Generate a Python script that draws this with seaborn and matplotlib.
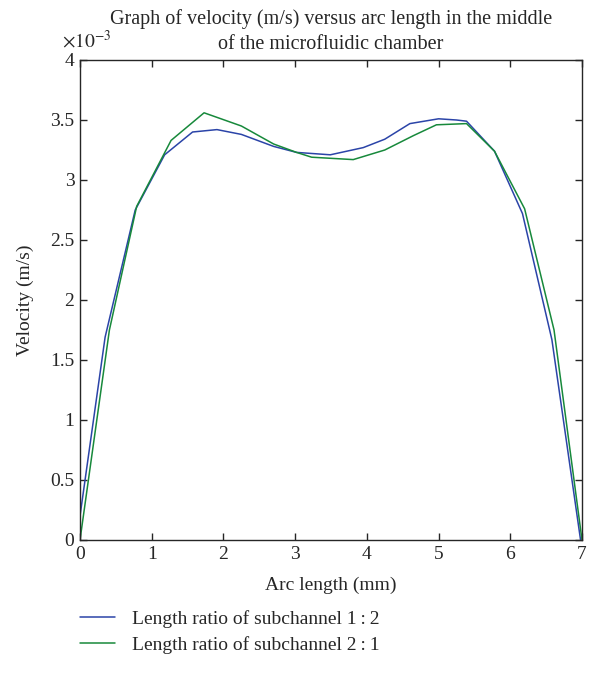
import numpy as np
import pandas as pd
import matplotlib
matplotlib.use("Agg")
import matplotlib.pyplot as plt
from matplotlib.ticker import FuncFormatter
import seaborn as sns

# Datos (velocidad en m/s, longitud de arco en mm)
arc_12 = [0, 0.35, 0.77, 1.18, 1.57, 1.91, 2.25, 2.70, 3.02, 3.49, 3.95,
          4.25, 4.60, 5.00, 5.25, 5.39, 5.78, 6.17, 6.58, 6.98]
vel_12 = [0.20, 1.69, 2.75, 3.21, 3.40, 3.42, 3.38, 3.28, 3.23, 3.21, 3.27,
          3.34, 3.47, 3.51, 3.50, 3.49, 3.24, 2.72, 1.67, 0.0]
arc_21 = [0, 0.41, 0.79, 1.27, 1.73, 2.25, 2.70, 3.02, 3.23, 3.81, 4.25,
          4.65, 4.97, 5.39, 5.78, 6.20, 6.61, 7.0]
vel_21 = [0.0, 1.75, 2.78, 3.33, 3.56, 3.45, 3.30, 3.23, 3.19, 3.17, 3.25,
          3.37, 3.46, 3.47, 3.24, 2.76, 1.75, 0.0]
labels = ["Length ratio of subchannel 1\u2009:\u20092",
          "Length ratio of subchannel 2\u2009:\u20091"]
colors = ["#2B44A8", "#17893B"]

df = pd.concat([
    pd.DataFrame({"arc": arc_12, "vel": np.array(vel_12) * 1e-3, "serie": labels[0]}),
    pd.DataFrame({"arc": arc_21, "vel": np.array(vel_21) * 1e-3, "serie": labels[1]}),
])

sns.set_style("ticks")
plt.rcParams["font.family"] = ["Liberation Serif", "DejaVu Serif"]
plt.rcParams["mathtext.fontset"] = "stix"
plt.rcParams["xtick.direction"] = "in"
plt.rcParams["ytick.direction"] = "in"

FS = 14

fig = plt.figure(figsize=(5.89, 6.73), dpi=100)
ax = fig.add_axes([80 / 589, 1 - 540 / 673, 502 / 589, 480 / 673])

sns.lineplot(data=df, x="arc", y="vel", hue="serie", palette=colors,
             sort=False, estimator=None, linewidth=1.1, ax=ax, legend=False)

ax.set_xlim(0, 7)
ax.set_ylim(0, 4e-3)
ax.set_xticks(range(8))
ax.set_yticks(np.arange(0, 4.01, 0.5) * 1e-3)
ax.yaxis.set_major_formatter(FuncFormatter(lambda v, p: f"{v * 1e3:g}"))
ax.text(-0.036, 1.018, r"$\times 10^{-3}$", transform=ax.transAxes,
        fontsize=FS, ha="left", va="bottom")
ax.tick_params(top=True, right=True, labelsize=FS, length=5, width=1, pad=4)
for s in ax.spines.values():
    s.set_linewidth(1.0)
    s.set_visible(True)

ax.set_xlabel("Arc length (mm)", fontsize=FS, labelpad=10)
ax.set_ylabel("Velocity (m/s)", fontsize=FS, labelpad=12)
ax.set_title("Graph of velocity (m/s) versus arc length in the middle\nof the microfluidic chamber",
             fontsize=FS + 0.5, linespacing=1.4, pad=8)

handles = [plt.Line2D([], [], color=c, lw=1.1) for c in colors]
fig.legend(handles, labels, loc="upper left", bbox_to_anchor=(80 / 589, 1 - 610 / 673),
           frameon=False, fontsize=FS, handlelength=1.8, handletextpad=0.85,
           labelspacing=0.4, borderpad=0, borderaxespad=0)

fig.savefig("out.png", dpi=100)
